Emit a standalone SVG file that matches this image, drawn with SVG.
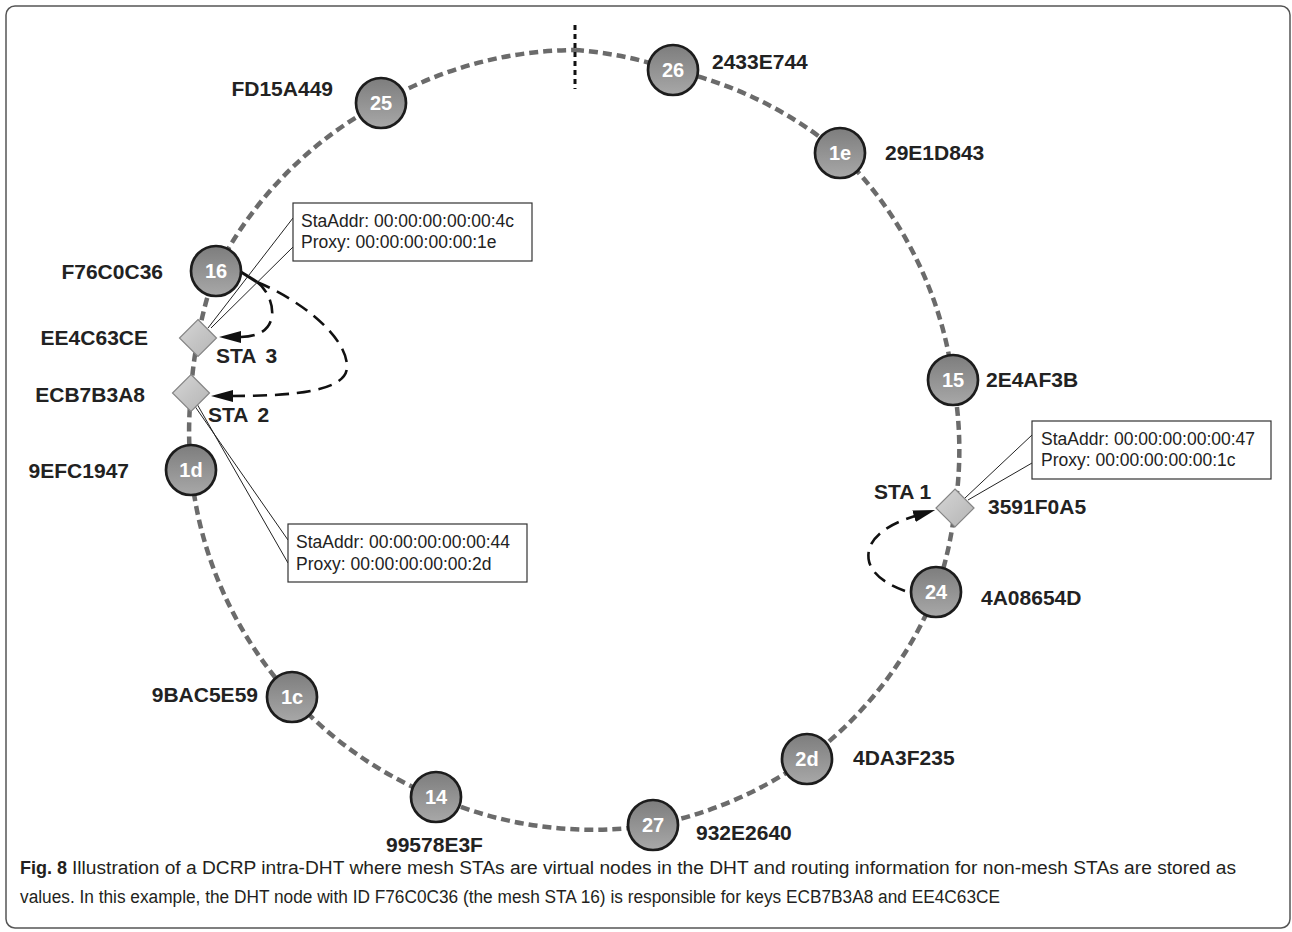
<svg xmlns="http://www.w3.org/2000/svg" width="1292" height="932" viewBox="0 0 1292 932">
<style>
.ring{fill:none;stroke:#6b6b6b;stroke-width:4.5;stroke-dasharray:9 5}
.mark{fill:none;stroke:#111;stroke-width:3;stroke-dasharray:5 4}
.node circle{fill:url(#ng);stroke:#1c1c1c;stroke-width:2.7}
.node text{font-family:"Liberation Sans",Arial,sans-serif;font-weight:bold;font-size:20px;fill:#fff;text-anchor:middle}
.lbl{font-family:"Liberation Sans",Arial,sans-serif;font-weight:bold;font-size:21px;fill:#222}
.dia{fill:url(#dg);stroke:#858585;stroke-width:1.2}
.box{fill:#fff;stroke:#333;stroke-width:1.2}
.btxt{font-family:"Liberation Sans",Arial,sans-serif;font-size:17.5px;fill:#222}
.lead{stroke:#222;stroke-width:1;fill:none}
.arr{fill:none;stroke:#111;stroke-width:2.6;stroke-dasharray:14 8;marker-end:url(#ah)}
.cap{font-family:"Liberation Sans",Arial,sans-serif;font-size:18px;fill:#231f20}
</style>
<defs>
<linearGradient id="ng" x1="0" y1="0" x2="0" y2="1">
<stop offset="0" stop-color="#7d7d7d"/>
<stop offset="1" stop-color="#a8a8a8"/>
</linearGradient>
<linearGradient id="dg" x1="0" y1="0" x2="1" y2="1">
<stop offset="0" stop-color="#d6d6d6"/>
<stop offset="1" stop-color="#b4b4b4"/>
</linearGradient>
<marker id="ah" markerUnits="userSpaceOnUse" markerWidth="24" markerHeight="14" refX="1" refY="6" orient="auto">
<path d="M0,0 L22,6 L0,12 Z" fill="#111"/>
</marker>
</defs>
<rect x="6" y="6" width="1284" height="922" rx="9" fill="#fff" stroke="#555" stroke-width="1.5"/>
<g id="connectors">
<path class="ring" d="M575 50 A390 390 0 0 1 673 70 A390 390 0 0 1 840 153 A390 390 0 0 1 953 380 A390 390 0 0 1 955 508 A390 390 0 0 1 936 592 A390 390 0 0 1 807 759 A390 390 0 0 1 653 825 A390 390 0 0 1 436 797 A390 390 0 0 1 292 697 A390 390 0 0 1 191 470 A390 390 0 0 1 191 393 A390 390 0 0 1 198 338 A390 390 0 0 1 216 271 A390 390 0 0 1 381 103 A390 390 0 0 1 575 50"/>
<line class="mark" x1="575" y1="25" x2="575" y2="89"/>
<line x1="241" y1="272" x2="257" y2="282" stroke="#111" stroke-width="3"/>
<path class="arr" d="M257 282 C275 295 285 337 240 337"/>
<path class="arr" d="M257 282 C300 300 345 335 347 365 C349 390 300 396 232 396"/>
<path class="arr" d="M905 591 C880 582 865 568 869 550 C873 533 895 522 915 516"/>
<line class="lead" x1="208" y1="328" x2="293" y2="218"/>
<line class="lead" x1="211" y1="328" x2="293" y2="247"/>
<line class="lead" x1="194" y1="405" x2="288" y2="540"/>
<line class="lead" x1="197" y1="404" x2="288" y2="563"/>
<line class="lead" x1="965" y1="498" x2="1032" y2="435"/>
<line class="lead" x1="968" y1="500" x2="1032" y2="463"/>
</g>
<g id="n26" class="node"><circle cx="673" cy="70" r="25"/><text x="673" y="77">26</text></g>
<g id="n1e" class="node"><circle cx="840" cy="153" r="25"/><text x="840" y="160">1e</text></g>
<g id="n15" class="node"><circle cx="953" cy="380" r="25"/><text x="953" y="387">15</text></g>
<g id="n24" class="node"><circle cx="936" cy="592" r="25"/><text x="936" y="599">24</text></g>
<g id="n2d" class="node"><circle cx="807" cy="759" r="25"/><text x="807" y="766">2d</text></g>
<g id="n27" class="node"><circle cx="653" cy="825" r="25"/><text x="653" y="832">27</text></g>
<g id="n14" class="node"><circle cx="436" cy="797" r="25"/><text x="436" y="804">14</text></g>
<g id="n1c" class="node"><circle cx="292" cy="697" r="25"/><text x="292" y="704">1c</text></g>
<g id="n1d" class="node"><circle cx="191" cy="470" r="25"/><text x="191" y="477">1d</text></g>
<g id="n16" class="node"><circle cx="216" cy="271" r="25"/><text x="216" y="278">16</text></g>
<g id="n25" class="node"><circle cx="381" cy="103" r="25"/><text x="381" y="110">25</text></g>
<g id="sta3"><path class="dia" d="M198 319.5 L216.5 338 L198 356.5 L179.5 338 Z"/><text class="lbl" x="216" y="363" word-spacing="4">STA 3</text></g>
<g id="sta2"><path class="dia" d="M191 374.5 L209.5 393 L191 411.5 L172.5 393 Z"/><text class="lbl" x="208" y="422" word-spacing="4">STA 2</text></g>
<g id="sta1"><path class="dia" d="M955 489 L974 508 L955 527 L936 508 Z"/><text class="lbl" x="874" y="499">STA 1</text></g>
<g id="labels">
<text class="lbl" x="712" y="69">2433E744</text>
<text class="lbl" x="885" y="160">29E1D843</text>
<text class="lbl" x="986" y="387">2E4AF3B</text>
<text class="lbl" x="988" y="514">3591F0A5</text>
<text class="lbl" x="981" y="605">4A08654D</text>
<text class="lbl" x="853" y="765">4DA3F235</text>
<text class="lbl" x="696" y="840">932E2640</text>
<text class="lbl" x="386" y="852">99578E3F</text>
<text class="lbl" x="258" y="702" text-anchor="end">9BAC5E59</text>
<text class="lbl" x="129" y="478" text-anchor="end">9EFC1947</text>
<text class="lbl" x="145" y="402" text-anchor="end">ECB7B3A8</text>
<text class="lbl" x="148" y="345" text-anchor="end">EE4C63CE</text>
<text class="lbl" x="163" y="279" text-anchor="end">F76C0C36</text>
<text class="lbl" x="333" y="96" text-anchor="end">FD15A449</text>
</g>
<g id="box3">
<rect class="box" x="293" y="203" width="239" height="58"/>
<text class="btxt" x="301" y="227">StaAddr: 00:00:00:00:00:4c</text>
<text class="btxt" x="301" y="248">Proxy: 00:00:00:00:00:1e</text>
</g>
<g id="box2">
<rect class="box" x="288" y="524" width="239" height="58"/>
<text class="btxt" x="296" y="548">StaAddr: 00:00:00:00:00:44</text>
<text class="btxt" x="296" y="570">Proxy: 00:00:00:00:00:2d</text>
</g>
<g id="box1">
<rect class="box" x="1032" y="421" width="239" height="58"/>
<text class="btxt" x="1041" y="445">StaAddr: 00:00:00:00:00:47</text>
<text class="btxt" x="1041" y="466">Proxy: 00:00:00:00:00:1c</text>
</g>
<g id="caption">
<text class="cap" x="20" y="874" font-weight="bold">Fig. 8</text>
<text class="cap" x="72" y="874" textLength="1164" lengthAdjust="spacingAndGlyphs">Illustration of a DCRP intra-DHT where mesh STAs are virtual nodes in the DHT and routing information for non-mesh STAs are stored as</text>
<text class="cap" x="20" y="903" textLength="980" lengthAdjust="spacingAndGlyphs">values. In this example, the DHT node with ID F76C0C36 (the mesh STA 16) is responsible for keys ECB7B3A8 and EE4C63CE</text>
</g>
</svg>
